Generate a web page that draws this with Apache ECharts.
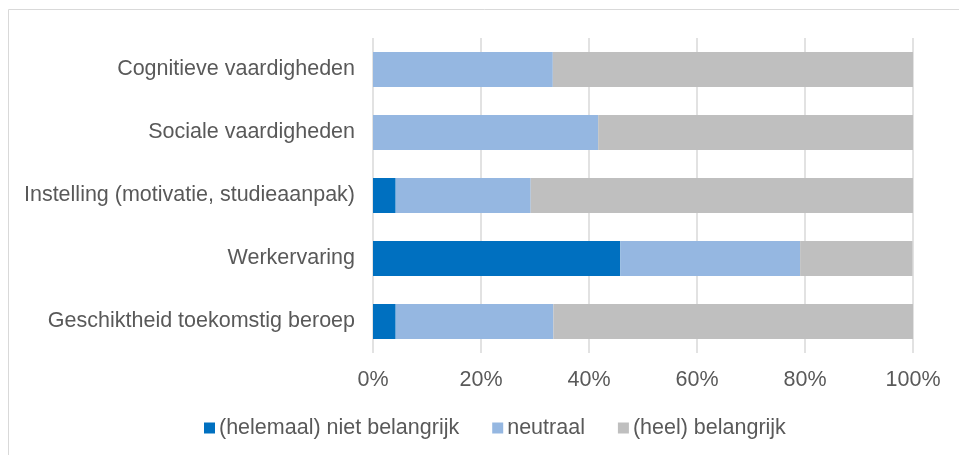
<!DOCTYPE html>
<html><head><meta charset="utf-8">
<script src="https://cdn.jsdelivr.net/npm/echarts@6/dist/echarts.min.js"></script>
<style>html,body{margin:0;padding:0;background:#fff}#c{width:959px;height:455px}</style>
</head><body><div id="c"></div>
<script>
var categories = ['Geschiktheid toekomstig beroep','Werkervaring','Instelling (motivatie, studieaanpak)','Sociale vaardigheden','Cognitieve vaardigheden'];
var nietBelangrijk = [4.2, 45.8, 4.2, 0, 0];
var neutraal = [29.2, 33.3, 25.0, 41.7, 33.3];
var belangrijk = [66.7, 20.8, 70.8, 58.3, 66.7];
var seriesNames = ['(helemaal) niet belangrijk','neutraal','(heel) belangrijk'];
var colors = ['#0070C0','#95B7E1','#BFBFBF'];
var chart = echarts.init(document.getElementById('c'));
var font = 'Liberation Sans, Arial, sans-serif';
function s(name, data, color){
  return {name:name,type:'bar',stack:'t',data:data,barWidth:35,itemStyle:{color:color},emphasis:{disabled:true}};
}
chart.setOption({
  animation:false,
  textStyle:{fontFamily:font},
  graphic:[{type:'rect',shape:{x:8.5,y:9.5,width:960,height:460},style:{fill:'none',stroke:'#d9d9d9',lineWidth:1},silent:true}],
  grid:{left:373,right:46,top:38,bottom:102,containLabel:false},
  legend:{top:412,left:199,itemWidth:11,itemHeight:11,itemGap:33,icon:'rect',
    textStyle:{fontSize:21.5,lineHeight:22,color:'#595959',fontFamily:font,padding:[0,0,0,-1]},data:seriesNames},
  xAxis:{type:'value',min:0,max:100,interval:20,
    axisLabel:{formatter:'{value}%',fontSize:21.5,color:'#595959',margin:16,fontFamily:font},
    splitLine:{lineStyle:{color:'#d9d9d9',width:1.5}},axisLine:{show:false},axisTick:{show:false}},
  yAxis:{type:'category',data:categories,
    axisLabel:{fontSize:21.5,color:'#595959',margin:18,fontFamily:font},
    axisLine:{show:false},axisTick:{show:false}},
  series:[s(seriesNames[0],nietBelangrijk,colors[0]),s(seriesNames[1],neutraal,colors[1]),s(seriesNames[2],belangrijk,colors[2])]
});
</script></body></html>
